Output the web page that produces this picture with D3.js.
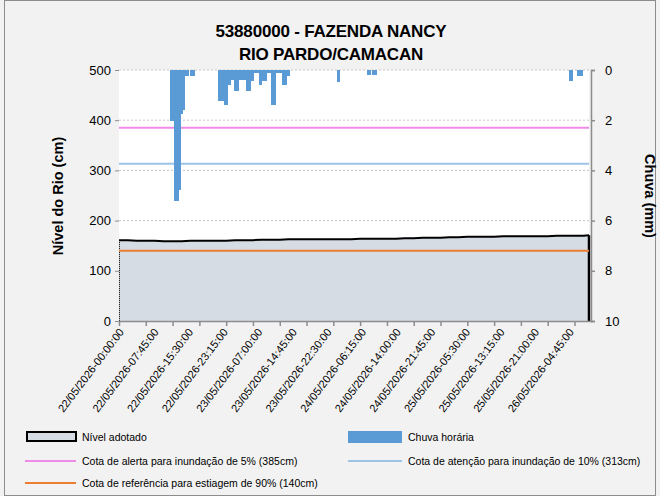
<!DOCTYPE html>
<html><head><meta charset="utf-8">
<script src="https://cdn.jsdelivr.net/npm/d3@7"></script>
<style>
html,body{margin:0;padding:0;background:#f2f2f2;}
svg{display:block;font-family:"Liberation Sans",Arial,sans-serif;}
</style></head>
<body><svg id="c" width="660" height="496"></svg>
<script>
// ---- DATA ----
const titleLines = ["53880000 - FAZENDA NANCY", "RIO PARDO/CAMACAN"];
const nCategories = 421; // 15-min steps from 22/05/2026 00:00
const xLabelIdx = [0,31,62,93,124,155,186,217,248,279,310,341,372,403];
const xLabels = ["22/05/2026-00:00:00","22/05/2026-07:45:00","22/05/2026-15:30:00","22/05/2026-23:15:00",
  "23/05/2026-07:00:00","23/05/2026-14:45:00","23/05/2026-22:30:00","24/05/2026-06:15:00",
  "24/05/2026-14:00:00","24/05/2026-21:45:00","25/05/2026-05:30:00","25/05/2026-13:15:00",
  "25/05/2026-21:00:00","26/05/2026-04:45:00"];
const xTickIdx = [0,24,48,72,96,120,144,168,192,216,240,264,288,312,336,360,384,408];
const levelIdx = [0,8,16,24,32,40,48,56,64,72,80,88,96,104,112,120,128,136,144,152,160,168,176,184,192,200,208,216,224,232,240,248,256,264,272,280,288,296,304,312,320,328,336,344,352,360,368,376,384,392,400,408,416,421];
const levelCm = [161,161,160,160,160,159,159,159,160,160,160,160,160,161,161,161,162,162,162,163,163,163,163,163,163,163,163,164,164,164,164,164,165,165,166,166,166,167,167,168,168,168,168,169,169,169,169,169,169,170,170,170,170,171];
const rainStart = [46,49,53,55,57,59,64,89,94,97,100,103,107,114,118,121,125,128,132,136,140,146,150,195,222,227,403,410];
const rainEnd   = [49,53,55,57,59,62,68,94,97,100,103,107,114,118,121,125,128,132,136,140,146,150,153,198,225,231,406,415];
const rainMm    = [2.05,5.2,4.8,1.75,1.6,0.22,0.22,1.25,1.4,0.6,0.4,0.85,0.4,0.85,0.43,0.12,0.6,0.45,0.12,1.4,0.12,0.6,0.22,0.47,0.2,0.2,0.45,0.23];
const leftTicks = [0,100,200,300,400,500];
const rightTicks = [0,2,4,6,8,10];
const cotaAlerta = 385, cotaAtencao = 313, cotaEstiagem = 140;
const legendTexts = ["Nível adotado","Chuva horária","Cota de alerta para inundação de 5% (385cm)",
  "Cota de atenção para inundação de 10% (313cm)","Cota de referência para estiagem de 90% (140cm)"];

// ---- COLORS ----
const C = {level:"#d6dce4", rain:"#5b9bd5", pink:"#ee8ae8", lblue:"#9dc3e6", orange:"#ed7d31", axis:"#8c8c8c", grid:"#c8c8c8"};

const svg = d3.select("#c");
const L=119, R=589, T=70, B=321;
const x = d3.scaleLinear().domain([0,nCategories]).range([L,R]);
const yL = d3.scaleLinear().domain([0,500]).range([B,T]);
const yR = d3.scaleLinear().domain([0,10]).range([T,B]);

// outer border
svg.append("rect").attr("x",4.5).attr("y",0.5).attr("width",651).attr("height",495)
  .attr("fill","#f2f2f2").attr("stroke","#8c8c8c").attr("stroke-width",1);
// plot background
svg.append("rect").attr("x",L).attr("y",T).attr("width",R-L).attr("height",B-T).attr("fill","#fff");

// title
svg.selectAll("text.title").data(titleLines).join("text").attr("class","title")
  .attr("x",331).attr("y",(d,i)=>37+i*23).attr("text-anchor","middle")
  .attr("font-size",17).attr("font-weight","bold").attr("letter-spacing",-0.2).attr("fill","#000").text(d=>d);

// gridlines
svg.append("g").selectAll("line").data(leftTicks.filter(d=>d>0)).join("line")
  .attr("x1",L).attr("x2",R).attr("y1",d=>yL(d)).attr("y2",d=>yL(d))
  .attr("stroke",C.grid).attr("stroke-dasharray","2,2").attr("stroke-width",1);

// level area
const pts = levelIdx.map((d,i)=>({i:d,v:levelCm[i]}));
svg.append("path").datum(pts)
  .attr("d",d3.area().x(d=>x(d.i)).y0(yL(0)).y1(d=>yL(d.v)))
  .attr("fill",C.level);
svg.append("path").datum(pts)
  .attr("d",d3.line().x(d=>x(d.i)).y(d=>yL(d.v)))
  .attr("fill","none").attr("stroke","#000").attr("stroke-width",2);
const last = pts[pts.length-1];
svg.append("line").attr("x1",x(last.i)).attr("x2",x(last.i)).attr("y1",yL(last.v)).attr("y2",yL(0))
  .attr("stroke","#000").attr("stroke-width",2.5);
svg.append("line").attr("x1",L+0.5).attr("x2",L+0.5).attr("y1",yL(pts[0].v)).attr("y2",yL(0))
  .attr("stroke","#000").attr("stroke-width",1).attr("stroke-dasharray","1,1");

// reference lines
[[cotaAlerta,C.pink],[cotaAtencao,C.lblue],[cotaEstiagem,C.orange]].forEach(([v,c])=>{
  svg.append("line").attr("x1",L).attr("x2",R).attr("y1",yL(v)).attr("y2",yL(v))
    .attr("stroke",c).attr("stroke-width",2);
});

// rain bars
svg.append("g").attr("shape-rendering","crispEdges").selectAll("rect").data(rainMm).join("rect")
  .attr("x",(d,i)=>x(rainStart[i])).attr("width",(d,i)=>x(rainEnd[i])-x(rainStart[i])+0.4)
  .attr("y",yR(0)).attr("height",d=>yR(d)-yR(0)).attr("fill",C.rain);

// axes
const axL = svg.append("g").attr("transform",`translate(${L},0)`)
  .call(d3.axisLeft(yL).tickValues(leftTicks).tickSize(4).tickPadding(4));
axL.select(".domain").remove();
axL.selectAll("line").attr("stroke",C.axis);
axL.selectAll("text").attr("font-size",13).attr("fill","#000").attr("font-family","Liberation Sans, Arial");

const axR = svg.append("g").attr("transform",`translate(${R+2},0)`)
  .call(d3.axisRight(yR).tickValues(rightTicks).tickSize(4).tickPadding(10));
axR.selectAll("line,path").attr("stroke",C.axis).attr("stroke-width",1.5);
axR.selectAll("text").attr("font-size",13).attr("fill","#000").attr("font-family","Liberation Sans, Arial");

const axB = svg.append("g").attr("transform",`translate(0,${B})`)
  .call(d3.axisBottom(x).tickValues(xTickIdx).tickSize(5).tickFormat(""));
axB.select(".domain").attr("d",`M${L},0.5H${R+4}`);
axB.selectAll("line,path").attr("stroke",C.axis).attr("stroke-width",1.5);

const axLab = svg.append("g").attr("transform",`translate(0,${B})`)
  .call(d3.axisBottom(x).tickValues(xLabelIdx).tickSize(0).tickFormat((d,i)=>xLabels[i]));
axLab.select(".domain").remove();
axLab.selectAll("text").attr("font-size",11).attr("fill","#000").attr("font-family","Liberation Sans, Arial")
  .attr("text-anchor","end").attr("dy",null).attr("y",0)
  .attr("transform","translate(5,11) rotate(-53)");

// axis titles
svg.append("text").attr("transform","translate(63,196) rotate(-90)").attr("text-anchor","middle")
  .attr("font-size",14.5).attr("font-weight","bold").text("Nível do Rio (cm)");
svg.append("text").attr("transform","translate(645,196) rotate(90)").attr("text-anchor","middle")
  .attr("font-size",14.5).attr("font-weight","bold").text("Chuva (mm)");

// legend
const lg = svg.append("g").attr("font-size",10.5);
lg.append("rect").attr("x",27).attr("y",432).attr("width",49).attr("height",9)
  .attr("fill",C.level).attr("stroke","#000").attr("stroke-width",2);
lg.append("rect").attr("x",348).attr("y",431).attr("width",54).attr("height",12).attr("fill",C.rain);
lg.append("line").attr("x1",25).attr("x2",76).attr("y1",461).attr("y2",461).attr("stroke",C.pink).attr("stroke-width",2);
lg.append("line").attr("x1",348).attr("x2",402).attr("y1",461).attr("y2",461).attr("stroke",C.lblue).attr("stroke-width",2);
lg.append("line").attr("x1",25).attr("x2",76).attr("y1",483).attr("y2",483).attr("stroke",C.orange).attr("stroke-width",2);
const lpos = [[82,441],[408,441],[82,465],[408,465],[82,487]];
lg.selectAll("text").data(legendTexts).join("text")
  .attr("x",(d,i)=>lpos[i][0]).attr("y",(d,i)=>lpos[i][1]).attr("fill","#000").text(d=>d);
</script></body></html>
